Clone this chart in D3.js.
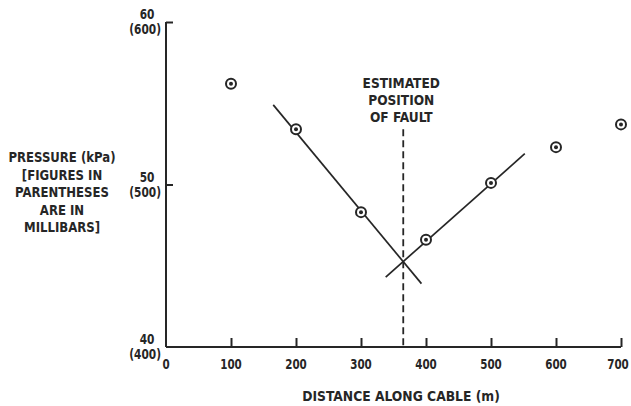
<!DOCTYPE html>
<html>
<head>
<meta charset="utf-8">
<script src="https://cdn.jsdelivr.net/npm/d3@7"></script>
<style>
  body { margin: 0; background: #fff; }
  svg text { font-family: "DejaVu Sans Condensed", sans-serif; font-weight: bold; fill: #262626; font-size: 14px; }
</style>
</head>
<body>
<div id="chart"></div>
<script>
// measured readings along the cable
const distances = [100, 200, 300, 400, 500, 600, 700];
const pressures = [56.2, 53.4, 48.3, 46.6, 50.1, 52.3, 53.7];

// the two fitted lines (start / end)
const fallingLine = [[165, 54.9], [393, 43.9]];
const risingLine = [[338, 44.3], [552, 51.9]];

const faultDistance = 365;
const faultTop = 53.4;

const xTicks = [0, 100, 200, 300, 400, 500, 600, 700];
const yTicks = [40, 50, 60];
const yTickMillibars = ["(400)", "(500)", "(600)"];

const yTitle = ["PRESSURE (kPa)", "[FIGURES IN", "PARENTHESES", "ARE IN", "MILLIBARS]"];
const faultLabel = ["ESTIMATED", "POSITION", "OF FAULT"];

const width = 631, height = 406;
const ink = "#262626";

const svg = d3.select("#chart").append("svg")
    .attr("width", width)
    .attr("height", height);

const x = d3.scaleLinear().domain([0, 700]).range([166, 621]);
const y = d3.scaleLinear().domain([40, 60]).range([347, 22]);

// the print face is narrower than anything installed, so squeeze it
function squeeze(px, py, sx) {
    return "translate(" + px + "," + py + ") scale(" + sx + ",1)";
}

// x axis, ticks pointing up
const xAxis = svg.append("g")
    .attr("transform", "translate(0," + y(40) + ")")
    .call(d3.axisTop(x).tickValues(xTicks).tickSize(9).tickFormat(""));
xAxis.select(".domain").attr("d", "M" + x(0) + ",0H" + x(700));
xAxis.selectAll("line,path").attr("stroke", ink).attr("stroke-width", 2);
xAxis.selectAll(".tick").filter(d => d === 0).select("line").remove();

svg.append("g").selectAll("text")
    .data(xTicks)
    .enter().append("text")
    .attr("transform", d => squeeze(d === 700 ? x(d) - 3 : x(d), y(40) + 22, 0.82))
    .attr("text-anchor", "middle")
    .text(d => d);

// y axis, ticks pointing right
const yAxis = svg.append("g")
    .attr("transform", "translate(" + x(0) + ",0)")
    .call(d3.axisRight(y).tickValues(yTicks).tickSize(7).tickFormat(""));
yAxis.select(".domain").attr("d", "M0," + y(40) + "V" + y(60));
yAxis.selectAll("line,path").attr("stroke", ink).attr("stroke-width", 2);
yAxis.selectAll(".tick").filter(d => d === 40).select("line").remove();

const yLab = svg.append("g");
yLab.selectAll("text.kpa")
    .data(yTicks)
    .enter().append("text")
    .attr("class", "kpa")
    .attr("transform", d => squeeze(x(0) - 19, y(d) - 3, 0.84))
    .attr("text-anchor", "middle")
    .text(d => d);
yLab.selectAll("text.mb")
    .data(yTicks)
    .enter().append("text")
    .attr("class", "mb")
    .attr("transform", d => squeeze(x(0) - 5, y(d) + 12, 0.84))
    .attr("text-anchor", "end")
    .text((d, i) => yTickMillibars[i]);

// axis titles
svg.append("text")
    .attr("transform", squeeze(401, 401, 0.98))
    .attr("text-anchor", "middle")
    .text("DISTANCE ALONG CABLE (m)");

svg.append("g").selectAll("text")
    .data(yTitle)
    .enter().append("text")
    .attr("transform", (d, i) => squeeze(62, 162 + i * 17.6, 0.93))
    .attr("text-anchor", "middle")
    .text(d => d);

// fault marker
svg.append("line")
    .attr("x1", x(faultDistance)).attr("x2", x(faultDistance))
    .attr("y1", y(faultTop)).attr("y2", y(40))
    .attr("stroke", ink)
    .attr("stroke-width", 1.8)
    .attr("stroke-dasharray", "7,4");

svg.append("g").selectAll("text")
    .data(faultLabel)
    .enter().append("text")
    .attr("transform", (d, i) => squeeze(x(faultDistance) - 2, 88 + i * 17, 0.97))
    .attr("text-anchor", "middle")
    .text(d => d);

// fitted lines
const line = d3.line().x(d => x(d[0])).y(d => y(d[1]));
svg.selectAll("path.fit")
    .data([fallingLine, risingLine])
    .enter().append("path")
    .attr("class", "fit")
    .attr("d", line)
    .attr("fill", "none")
    .attr("stroke", ink)
    .attr("stroke-width", 1.7);

// data points: ringed dots
const pts = svg.append("g").selectAll("g")
    .data(distances.map((d, i) => [d, pressures[i]]))
    .enter().append("g")
    .attr("transform", d => "translate(" + x(d[0]) + "," + y(d[1]) + ")");
pts.append("circle")
    .attr("r", 5)
    .attr("fill", "#fff")
    .attr("stroke", ink)
    .attr("stroke-width", 2);
pts.append("circle")
    .attr("r", 2)
    .attr("fill", ink);
</script>
</body>
</html>
